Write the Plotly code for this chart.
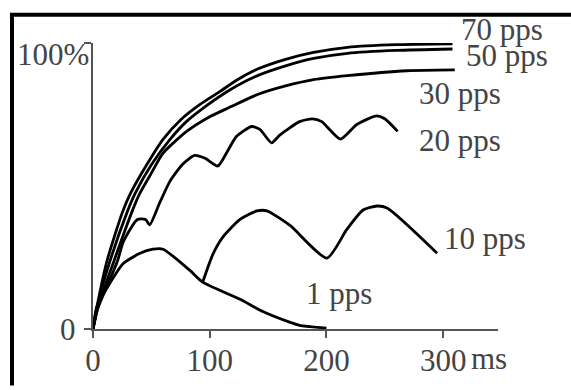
import plotly.graph_objects as go

# ---- data (time in ms, response in % of maximum) ----
t70 = [0, 4, 12, 25, 32, 46, 60, 75, 92, 109, 123, 141, 165, 189, 218, 260, 308]
y70 = [0, 9, 23.8, 40.6, 47.3, 57.4, 66.3, 73.1, 78.6, 83.1, 87, 90.9, 94.3, 96.7, 98.5, 99.4, 99.7]

t50 = [0, 4, 14.6, 29, 36, 50, 66, 80, 97, 111, 123, 141, 165, 189, 218, 260, 308]
y50 = [0, 8.5, 23.8, 40.6, 47.3, 57.4, 66.3, 72.5, 78, 82, 85, 88.6, 92, 94.6, 96.4, 97.4, 97.9]

t30 = [0, 4, 18, 33, 40, 50, 60, 80, 100, 117, 141, 165, 189, 218, 269, 310]
y30 = [0, 7.5, 23.8, 40.6, 47.3, 54.5, 61.5, 69, 74.2, 77.5, 82, 85, 87.2, 88.6, 90.3, 90.6]

t20 = [0, 4, 11, 21, 26, 38, 45, 48.5, 57, 66, 77, 87, 96, 107, 115, 123, 136, 143,
       153, 160, 177, 188, 196, 212, 226, 243, 250, 261]
y20 = [0, 7, 14, 23.8, 30.5, 38.3, 38.3, 36.4, 44, 51.7, 57.7, 60.7, 59.7, 57, 62, 67.4, 70.8, 69.8,
       65.1, 67.8, 72.5, 73.5, 72.5, 66.4, 71.5, 74.5, 73.5, 69.1]

t10 = [94, 102.8, 111.4, 126, 140.5, 149, 168.8, 200.5, 217.6, 231.4, 243.4, 252, 294.8]
y10 = [16.4, 26.2, 32.2, 38.3, 41.3, 41.3, 36.2, 24.8, 34.9, 41.6, 43, 42.3, 26.5]

t1 = [0, 3.4, 14.6, 25.7, 40.3, 51.4, 60, 83, 94, 126, 146, 169, 177, 200]
y1 = [0, 8, 16.1, 22.8, 26.5, 27.9, 27.9, 20.5, 16.4, 10.4, 6, 2.3, 1.3, 0.3]

x_tickvals = [0, 100, 200, 300]
x_ticktext = ["0", "100", "200", "300"]
y_tickvals = [0, 100]

series = [
    ("70 pps", t70, y70),
    ("50 pps", t50, y50),
    ("30 pps", t30, y30),
    ("20 pps", t20, y20),
    ("10 pps", t10, y10),
    ("1 pps", t1, y1),
]

W, H = 571, 390
L, R, T, B = 93, 498, 43, 341  # plot area in pixels


def px(x):
    return (x - L) / (R - L)


def py(y):
    return (B - y) / (B - T)


FONT = "Liberation Serif"
TXT = "#444444"
FS = 31

fig = go.Figure()
for name, t, y in series:
    fig.add_trace(go.Scatter(x=t, y=y, mode="lines", name=name,
                             line=dict(color="black", width=2.8, shape="spline", smoothing=0.6),
                             showlegend=False, hoverinfo="skip"))

labels = [  # text, left px, center px
    ("70 pps", 459, 29),
    ("50 pps", 464, 56),
    ("30 pps", 417, 96),
    ("20 pps", 417, 145),
    ("10 pps", 442, 247),
    ("1 pps", 304, 304),
]
ann = []
for txt, lx, cy in labels:
    ann.append(dict(text=txt, x=px(lx), y=py(cy), xref="paper", yref="paper",
                    xanchor="left", yanchor="middle", showarrow=False,
                    font=dict(family=FONT, size=FS, color=TXT)))
ann.append(dict(text="100%", x=px(91), y=py(55), xref="paper", yref="paper",
                xanchor="right", yanchor="middle", showarrow=False,
                font=dict(family=FONT, size=FS, color=TXT)))
ann.append(dict(text="0", x=px(78), y=py(341), xref="paper", yref="paper",
                xanchor="right", yanchor="middle", showarrow=False,
                font=dict(family=FONT, size=FS, color=TXT)))
ann.append(dict(text="ms", x=px(509), y=py(372), xref="paper", yref="paper",
                xanchor="right", yanchor="middle", showarrow=False,
                font=dict(family=FONT, size=FS, color=TXT)))

fig.update_layout(
    width=W, height=H, autosize=False,
    margin=dict(l=L, r=W - R, t=T, b=H - B, pad=0),
    paper_bgcolor="white", plot_bgcolor="white",
    annotations=ann,
    shapes=[
        dict(type="line", xref="paper", yref="paper", x0=px(12), x1=px(12), y0=py(12), y1=py(400),
             line=dict(color="black", width=4)),
        dict(type="line", xref="paper", yref="paper", x0=px(10), x1=px(580), y0=py(13.5), y1=py(13.5),
             line=dict(color="black", width=4)),
    ],
    xaxis=dict(range=[0, 347], showgrid=False, zeroline=False, showline=True,
               linecolor="#555555", linewidth=2, ticks="outside", ticklen=7, tickwidth=2,
               tickcolor="#555555", tickvals=x_tickvals, ticktext=x_ticktext,
               ticklabelstandoff=-4,
               tickfont=dict(family=FONT, size=FS, color=TXT)),
    yaxis=dict(range=[0, 100], showgrid=False, zeroline=False, showline=True,
               linecolor="#555555", linewidth=2, ticks="outside", ticklen=7, tickwidth=2,
               tickcolor="#555555", tickvals=y_tickvals, showticklabels=False),
)

fig.write_html("out.html")
